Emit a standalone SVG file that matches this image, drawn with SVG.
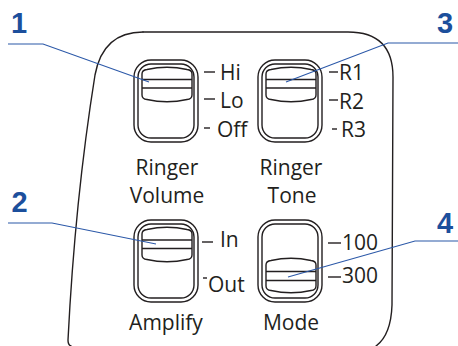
<svg xmlns="http://www.w3.org/2000/svg" xmlns:xlink="http://www.w3.org/1999/xlink" width="458" height="346" viewBox="0 0 458 346">
  <style>
    .ink { fill: none; stroke: #231f20; stroke-width: 1.4; stroke-linejoin: round; stroke-linecap: round; }
    .tick { stroke: #231f20; stroke-width: 1.4; }
    .lbl { font-family: "Open Sans", "Liberation Sans", sans-serif; font-size: 21px; fill: #231f20; }
    .cap { text-anchor: middle; }
    .num { font-family: "Liberation Sans", Arial, sans-serif; font-weight: bold; font-size: 29px; fill: #1c4f9c; text-anchor: middle; }
    .lead { fill: none; stroke: #2b58a8; stroke-width: 1.1; }
  </style>
  <defs>
    <g id="housing">
      <rect class="ink" x="0" y="0" width="64" height="82" rx="17" ry="17"/>
      <rect class="ink" x="4" y="4" width="56" height="74" rx="13" ry="13"/>
    </g>
    <g id="slider">
      <path class="ink" d="M0,7 Q0,3 5,2.5 Q25,-2 45,2.5 Q50,3 50,7 L50,28 Q50,32 45,32.5 Q25,37 5,32.5 Q0,32 0,28 Z"/>
    </g>
  </defs>

  <g id="body">
    <path class="ink" d="M143,32 L348,32 Q393,32 393,77 L392,305 Q391,335 376,346"/>
    <path class="ink" d="M143,32 Q103,32 95,75 Q75,200 68,340 Q68,345 71,346"/>
  </g>

  <g id="ringer-volume">
    <use href="#housing" x="134" y="60"/>
    <use href="#slider" x="142" y="67"/>
    <line class="tick" x1="142" y1="79.5" x2="192" y2="79.5"/>
    <line class="tick" x1="142" y1="88" x2="192" y2="88"/>
    <line class="tick" x1="204" y1="72" x2="215" y2="72"/>
    <line class="tick" x1="204" y1="99" x2="215" y2="99"/>
    <line class="tick" x1="204" y1="128" x2="210" y2="128"/>
    <text class="lbl" x="220" y="80">Hi</text>
    <text class="lbl" x="220" y="108">Lo</text>
    <text class="lbl" x="217" y="137">Off</text>
    <text class="lbl cap" x="167" y="174.5">Ringer</text>
    <text class="lbl cap" x="167" y="203">Volume</text>
  </g>

  <g id="ringer-tone">
    <use href="#housing" x="258" y="60"/>
    <use href="#slider" x="266" y="67"/>
    <line class="tick" x1="266" y1="79.5" x2="316" y2="79.5"/>
    <line class="tick" x1="266" y1="88" x2="316" y2="88"/>
    <line class="tick" x1="329" y1="72" x2="338" y2="72"/>
    <line class="tick" x1="329" y1="100" x2="338" y2="100"/>
    <line class="tick" x1="332" y1="129" x2="337" y2="129"/>
    <text class="lbl" x="339" y="80">R1</text>
    <text class="lbl" x="339" y="109">R2</text>
    <text class="lbl" x="341" y="137">R3</text>
    <text class="lbl cap" x="291" y="174.5">Ringer</text>
    <text class="lbl cap" x="292" y="203">Tone</text>
  </g>

  <g id="amplify">
    <use href="#housing" x="134" y="220"/>
    <use href="#slider" x="142" y="227"/>
    <line class="tick" x1="142" y1="240" x2="192" y2="240"/>
    <line class="tick" x1="142" y1="248.5" x2="192" y2="248.5"/>
    <line class="tick" x1="202" y1="242" x2="213" y2="242"/>
    <line class="tick" x1="203" y1="278" x2="207" y2="278"/>
    <text class="lbl" x="220" y="247">In</text>
    <text class="lbl" x="208" y="292">Out</text>
    <text class="lbl cap" x="166" y="330">Amplify</text>
  </g>

  <g id="mode">
    <use href="#housing" x="258" y="220"/>
    <use href="#slider" x="266" y="258"/>
    <line class="tick" x1="266" y1="271.5" x2="316" y2="271.5"/>
    <line class="tick" x1="266" y1="280.5" x2="316" y2="280.5"/>
    <line class="tick" x1="328" y1="243" x2="341" y2="243"/>
    <line class="tick" x1="328" y1="277" x2="341" y2="277"/>
    <text class="lbl" x="342" y="250">100</text>
    <text class="lbl" x="342" y="283">300</text>
    <text class="lbl cap" x="291" y="330">Mode</text>
  </g>

  <g id="callouts">
    <polyline class="lead" points="8,44 43,44 149,82"/>
    <polyline class="lead" points="8,223 52,223 156,244"/>
    <polyline class="lead" points="458,43 388,43 286,82"/>
    <polyline class="lead" points="458,241 415,241 288,277"/>
    <text class="num" x="19" y="33">1</text>
    <text class="num" x="19.5" y="212">2</text>
    <text class="num" x="445" y="33">3</text>
    <text class="num" x="445" y="233">4</text>
  </g>
</svg>
